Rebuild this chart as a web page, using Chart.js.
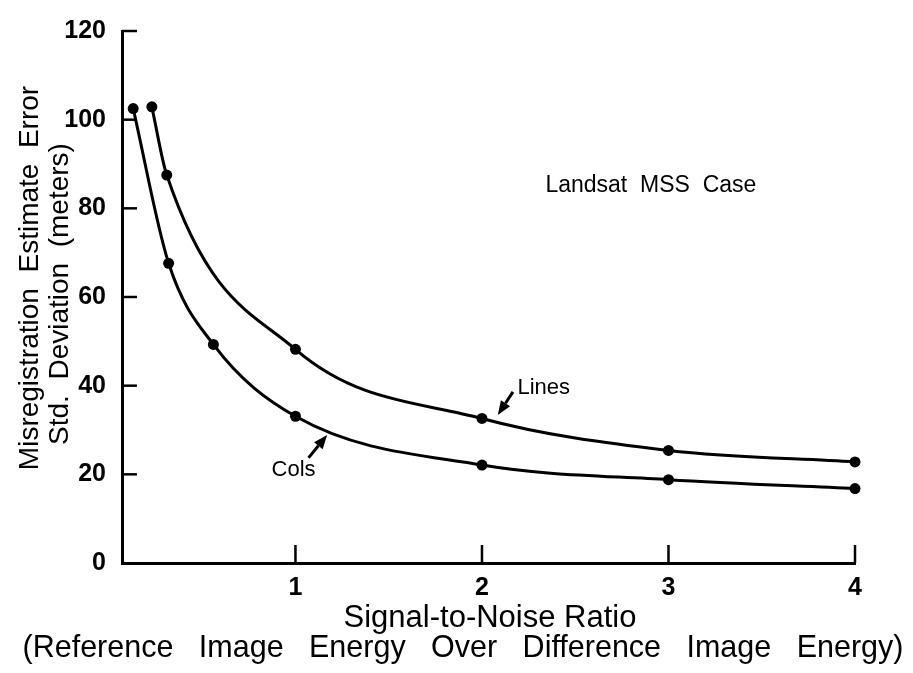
<!DOCTYPE html>
<html>
<head>
<meta charset="utf-8">
<title>Misregistration Estimate Error</title>
<script src="https://cdn.jsdelivr.net/npm/chart.js@4.4.1/dist/chart.umd.min.js"></script>
<style>
  html, body { margin: 0; padding: 0; background: #fff; }
  canvas { display: block; }
</style>
</head>
<body>
<canvas id="myChart" width="913" height="673"></canvas>
<script>
// signal-to-noise ratio against std. deviation of the estimate error (meters)
var colsX = [0.13, 0.32, 0.56, 1, 2, 3, 4];
var colsY = [102.5, 67.6, 49.3, 33.1, 22.1, 18.8, 16.8];
var linesX = [0.23, 0.31, 1, 2, 3, 4];
var linesY = [102.9, 87.5, 48.2, 32.6, 25.4, 22.8];

var xTicks = [1, 2, 3, 4];
var yTicks = [0, 20, 40, 60, 80, 100, 120];

var xTitle = ['Signal-to-Noise Ratio', '(Reference   Image   Energy   Over   Difference   Image   Energy)'];
var yTitle = ['Misregistration  Estimate  Error', 'Std.  Deviation  (meters)'];

var FONT = '"Liberation Sans", Arial, sans-serif';

function points(xs, ys) {
    return xs.map(function (x, i) { return { x: x, y: ys[i] }; });
}

// text and arrows placed in data units
var notes = {
    caseText: { text: 'Landsat  MSS  Case', x: 2.34, y: 85.2 },
    linesText: { text: 'Lines', x: 2.19, y: 39.4 },
    linesArrow: { x1: 2.166, y1: 38.6, x2: 2.085, y2: 33.4 },
    colsText: { text: 'Cols', x: 0.99, y: 21.1 },
    colsArrow: { x1: 1.07, y1: 23.7, x2: 1.17, y2: 28.9 }
};

function arrow(ctx, x1, y1, x2, y2) {
    var a = Math.atan2(y2 - y1, x2 - x1), len = 14, half = 5.5;
    var bx = x2 - len * Math.cos(a), by = y2 - len * Math.sin(a);
    ctx.lineWidth = 3;
    ctx.beginPath();
    ctx.moveTo(x1, y1);
    ctx.lineTo(bx, by);
    ctx.stroke();
    ctx.beginPath();
    ctx.moveTo(x2, y2);
    ctx.lineTo(bx + half * Math.sin(a), by - half * Math.cos(a));
    ctx.lineTo(bx - half * Math.sin(a), by + half * Math.cos(a));
    ctx.closePath();
    ctx.fill();
}

// inward tick marks, axis titles and the labels on the plot
var decorations = {
    id: 'decorations',
    afterDatasetsDraw: function (chart) {
        var ctx = chart.ctx, sx = chart.scales.x, sy = chart.scales.y, area = chart.chartArea;
        ctx.save();
        ctx.strokeStyle = '#000';
        ctx.fillStyle = '#000';
        ctx.lineWidth = 2.5;
        xTicks.forEach(function (v) {
            var px = sx.getPixelForValue(v);
            ctx.beginPath();
            ctx.moveTo(px, area.bottom);
            ctx.lineTo(px, area.bottom - 18);
            ctx.stroke();
        });
        yTicks.forEach(function (v) {
            if (v === 0) return;
            var py = sy.getPixelForValue(v);
            ctx.beginPath();
            ctx.moveTo(area.left, py);
            ctx.lineTo(area.left + 15, py);
            ctx.stroke();
        });

        ctx.textBaseline = 'middle';
        ctx.textAlign = 'center';
        ctx.font = '31px ' + FONT;
        ctx.fillText(xTitle[0], 490, 618);
        ctx.font = '30.5px ' + FONT;
        ctx.fillText(xTitle[1], 463, 649);

        ctx.save();
        ctx.translate(30, 278);
        ctx.rotate(-Math.PI / 2);
        ctx.font = '28px ' + FONT;
        ctx.fillText(yTitle[0], 0, 0);
        ctx.fillText(yTitle[1], -16, 30);
        ctx.restore();

        ctx.textAlign = 'left';
        ctx.font = '23px ' + FONT;
        ctx.fillText(notes.caseText.text, sx.getPixelForValue(notes.caseText.x), sy.getPixelForValue(notes.caseText.y));
        ctx.font = '22px ' + FONT;
        ctx.fillText(notes.linesText.text, sx.getPixelForValue(notes.linesText.x), sy.getPixelForValue(notes.linesText.y));
        ctx.textAlign = 'center';
        ctx.fillText(notes.colsText.text, sx.getPixelForValue(notes.colsText.x), sy.getPixelForValue(notes.colsText.y));

        [notes.linesArrow, notes.colsArrow].forEach(function (a) {
            arrow(ctx, sx.getPixelForValue(a.x1), sy.getPixelForValue(a.y1),
                sx.getPixelForValue(a.x2), sy.getPixelForValue(a.y2));
        });
        ctx.restore();
    }
};

var curve = {
    borderColor: '#000',
    borderWidth: 3,
    pointRadius: 5.5,
    pointBackgroundColor: '#000',
    pointBorderWidth: 0,
    cubicInterpolationMode: 'monotone',
    fill: false,
    clip: false
};

var ctx = document.getElementById('myChart').getContext('2d');
var chart = new Chart(ctx, {
    type: 'line',
    data: {
        datasets: [
            Object.assign({ label: 'Cols', data: points(colsX, colsY) }, curve),
            Object.assign({ label: 'Lines', data: points(linesX, linesY) }, curve)
        ]
    },
    options: {
        responsive: false,
        animation: false,
        layout: { padding: { top: 24, right: 58, left: 0, bottom: 0 } },
        plugins: { legend: { display: false }, tooltip: { enabled: false } },
        scales: {
            x: {
                type: 'linear',
                min: 0.07,
                max: 4,
                afterBuildTicks: function (scale) {
                    scale.ticks = xTicks.map(function (v) { return { value: v }; });
                },
                afterFit: function (scale) { scale.height = 110; },
                grid: { display: false, drawTicks: false },
                border: { display: true, color: '#000', width: 3 },
                ticks: {
                    color: '#000',
                    padding: 10,
                    font: { family: FONT, size: 25, weight: 'bold' }
                }
            },
            y: {
                min: 0,
                max: 120,
                afterBuildTicks: function (scale) {
                    scale.ticks = yTicks.map(function (v) { return { value: v }; });
                },
                afterFit: function (scale) { scale.width = 122; },
                grid: { display: false, drawTicks: false },
                border: { display: true, color: '#000', width: 3 },
                ticks: {
                    color: '#000',
                    padding: 16,
                    font: { family: FONT, size: 25, weight: 'bold' }
                }
            }
        }
    },
    plugins: [decorations]
});
</script>
</body>
</html>
